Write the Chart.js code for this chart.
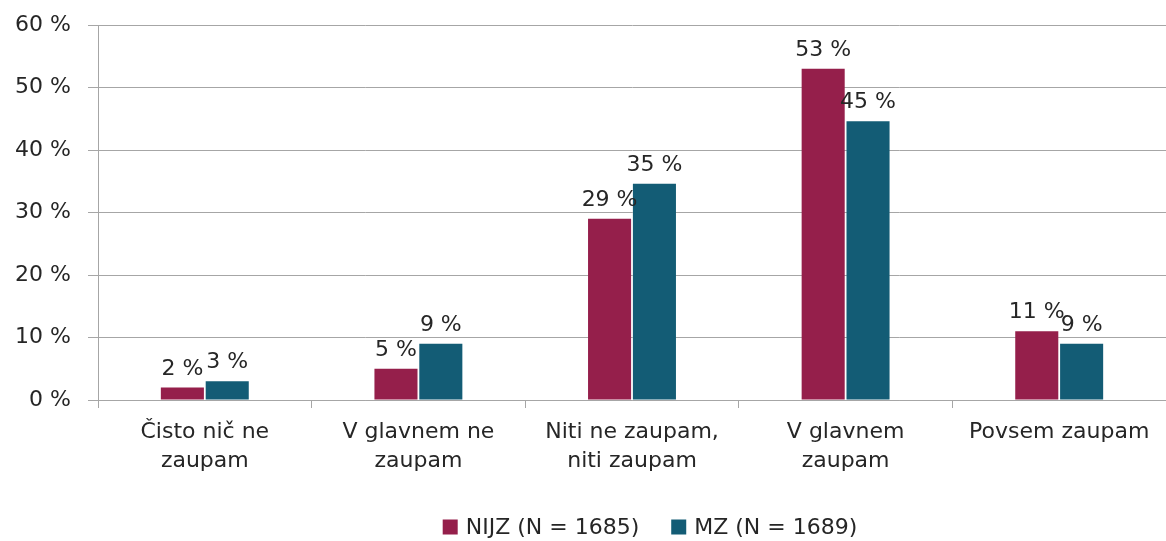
<!DOCTYPE html>
<html>
<head>
<meta charset="utf-8">
<script src="https://cdn.jsdelivr.net/npm/chart.js@4/dist/chart.umd.min.js"></script>
<style>
  html, body { margin: 0; padding: 0; background: #fff; }
  #wrap { width: 1166px; height: 541px; position: relative; }
</style>
</head>
<body>
<div id="wrap"><canvas id="chart"></canvas></div>
<script>
/* ── Data ─────────────────────────────────────── */
const categories = [
  ['Čisto nič ne', 'zaupam'],
  ['V glavnem ne', 'zaupam'],
  ['Niti ne zaupam,', 'niti zaupam'],
  ['V glavnem', 'zaupam'],
  'Povsem zaupam'
];
const nijzValues = [2, 5, 29, 53, 11];
const mzValues   = [3, 9, 34.6, 44.6, 9];
const seriesNames = ['NIJZ (N = 1685)', 'MZ (N = 1689)'];
const yTicks = [0, 10, 20, 30, 40, 50, 60];

const FONT = 'DejaVu Sans';
const TEXT = '#262626';
const COLORS = ['#951f4b', '#135c75'];

/* ── Value labels above bars ─────────────────── */
const barLabels = {
  id: 'barLabels',
  afterDatasetsDraw(chart) {
    const ctx = chart.ctx;
    ctx.save();
    ctx.font = '22px "' + FONT + '"';
    ctx.fillStyle = TEXT;
    ctx.textAlign = 'center';
    ctx.textBaseline = 'alphabetic';
    chart.data.datasets.forEach((ds, i) => {
      chart.getDatasetMeta(i).data.forEach((bar, j) => {
        ctx.fillText(Math.round(ds.data[j]) + ' %', bar.x, bar.y - 13);
      });
    });
    ctx.restore();
  }
};

/* ── Legend drawn by hand (bottom, right of centre) ── */
const bottomLegend = {
  id: 'bottomLegend',
  afterDraw(chart) {
    const ctx = chart.ctx;
    const box = 15, gapText = 8, gapItem = 32, cy = 527;
    ctx.save();
    ctx.font = '22px "' + FONT + '"';
    ctx.textBaseline = 'middle';
    ctx.textAlign = 'left';
    const widths = seriesNames.map(n => box + gapText + ctx.measureText(n).width);
    const total = widths.reduce((a, b) => a + b, 0) + gapItem * (seriesNames.length - 1);
    let x = 650 - total / 2;
    seriesNames.forEach((name, i) => {
      ctx.fillStyle = chart.data.datasets[i].backgroundColor;
      ctx.fillRect(x, cy - box / 2, box, box);
      ctx.fillStyle = TEXT;
      ctx.fillText(name, x + box + gapText, cy + 1);
      x += widths[i] + gapItem;
    });
    ctx.restore();
  }
};

new Chart(document.getElementById('chart'), {
  type: 'bar',
  data: {
    labels: categories,
    datasets: [
      { label: seriesNames[0], data: nijzValues, backgroundColor: COLORS[0] },
      { label: seriesNames[1], data: mzValues,   backgroundColor: COLORS[1] }
    ]
  },
  options: {
    responsive: true,
    maintainAspectRatio: false,
    animation: false,
    layout: { padding: { top: 25, right: 0, left: 0, bottom: 0 } },
    datasets: { bar: { categoryPercentage: 0.42, barPercentage: 0.96 } },
    scales: {
      x: {
        grid: { display: true, drawOnChartArea: false, offset: true, color: '#a6a6a6', tickLength: 8 },
        border: { color: '#a6a6a6' },
        ticks: { color: TEXT, font: { family: FONT, size: 22, lineHeight: 1.3 }, maxRotation: 0, autoSkip: false, padding: 10 },
        afterFit(scale) { scale.height = 141; }
      },
      y: {
        min: 0, max: 60,
        afterBuildTicks(scale) { scale.ticks = yTicks.map(v => ({ value: v })); },
        grid: { color: '#a6a6a6', tickLength: 10 },
        border: { color: '#a6a6a6' },
        ticks: { color: TEXT, font: { family: FONT, size: 22 }, padding: 17, callback: v => v + ' %' },
        afterFit(scale) { scale.width = 98; scale.paddingTop = 0; scale.paddingBottom = 0; }
      }
    },
    plugins: {
      legend: { display: false },
      tooltip: { enabled: false }
    }
  },
  plugins: [barLabels, bottomLegend]
});
</script>
</body>
</html>
